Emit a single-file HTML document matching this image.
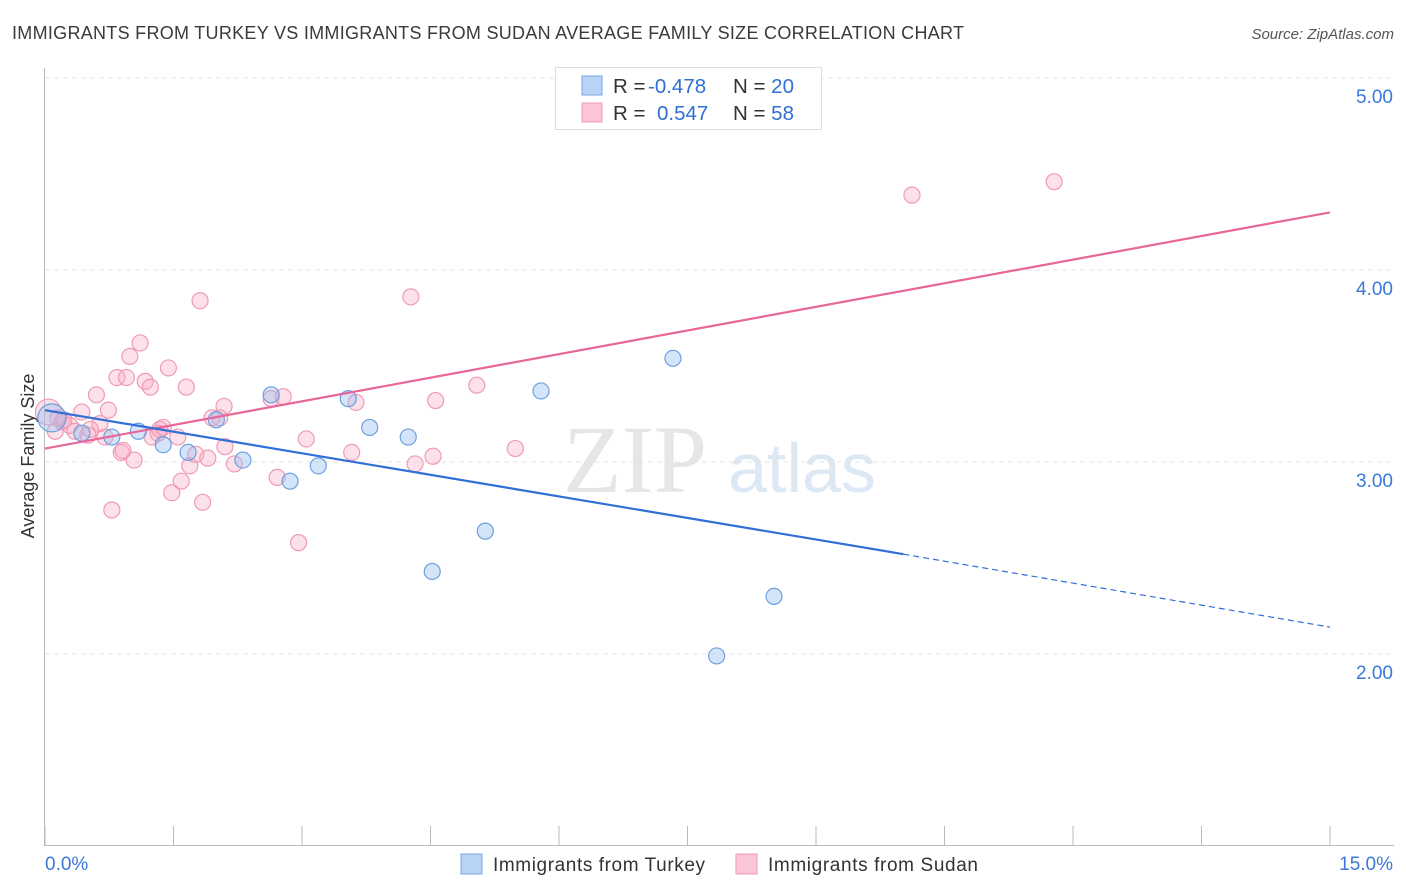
<!DOCTYPE html>
<html><head><meta charset="utf-8"><style>
body{margin:0;background:#fff;font-family:"Liberation Sans",sans-serif}
svg{display:block}
</style></head><body>
<svg id="c" width="1406" height="892">
<text x="12" y="39" font-size="18" fill="#3a3a3a" textLength="952">IMMIGRANTS FROM TURKEY VS IMMIGRANTS FROM SUDAN AVERAGE FAMILY SIZE CORRELATION CHART</text>
<text x="1394" y="39" font-size="15" fill="#555" font-style="italic" text-anchor="end">Source: ZipAtlas.com</text>
<text x="635" y="492" font-size="96" fill="#e6e6e6" font-family="Liberation Serif" text-anchor="middle">ZIP</text>
<text x="802" y="492" font-size="70" fill="#dde8f5" text-anchor="middle">atlas</text>
<text transform="translate(34,456) rotate(-90)" font-size="18" fill="#333" text-anchor="middle">Average Family Size</text>
<g id="grid"></g><g id="pts"></g><g id="trend"></g>
<g>
<rect x="555.5" y="67.5" width="266" height="62" fill="#fff" stroke="#ddd"/>
<rect x="582" y="76" width="20" height="19" fill="#b8d3f5" stroke="#7aa7e0"/>
<rect x="582" y="103" width="20" height="19" fill="#fac6d6" stroke="#f09ab5"/>
<text x="613" y="93" font-size="20.5" fill="#333">R = <tspan x="648" fill="#2f6fd6">-0.478</tspan><tspan x="733">N = </tspan><tspan fill="#2f6fd6">20</tspan></text>
<text x="613" y="120" font-size="20.5" fill="#333">R = <tspan x="657" fill="#2f6fd6">0.547</tspan><tspan x="733">N = </tspan><tspan fill="#2f6fd6">58</tspan></text>
</g>
<g>
<rect x="461" y="854" width="21" height="20" fill="#b8d3f5" stroke="#7aa7e0"/>
<text x="493" y="871" font-size="19" fill="#333" textLength="212">Immigrants from Turkey</text>
<rect x="736" y="854" width="21" height="20" fill="#fac6d6" stroke="#f09ab5"/>
<text x="768" y="871" font-size="19" fill="#333" textLength="210">Immigrants from Sudan</text>
</g>
</svg>
<script>
const yTicks=[2,3,4,5];
const yTickLabels=["2.00","3.00","4.00","5.00"];
const xTickLabels=["0.0%","15.0%"];
const turkeyX=[0.08,0.43,0.78,1.09,1.38,1.67,2.00,2.31,2.64,2.86,3.19,3.54,3.79,4.24,4.52,5.14,5.79,7.33,7.84,8.51];
const turkeyY=[3.23,3.15,3.13,3.16,3.09,3.05,3.22,3.01,3.35,2.90,2.98,3.33,3.18,3.13,2.43,2.64,3.37,3.54,1.99,2.30];
const sudanX=[0.04,0.12,0.20,0.29,0.35,0.43,0.50,0.60,0.64,0.74,0.78,0.84,0.89,0.95,0.99,1.04,1.11,1.17,1.23,1.25,1.32,1.38,1.44,1.48,1.55,1.59,1.65,1.69,1.76,1.81,1.84,1.90,1.95,2.04,2.09,2.10,2.21,2.64,2.71,2.78,2.96,3.05,3.58,3.63,4.27,4.32,4.53,4.56,5.04,5.49,10.12,11.78,0.22,0.53,1.34,0.70,0.15,0.91];
const sudanY=[3.26,3.16,3.21,3.19,3.16,3.26,3.14,3.35,3.20,3.27,2.75,3.44,3.05,3.44,3.55,3.01,3.62,3.42,3.39,3.13,3.15,3.18,3.49,2.84,3.13,2.90,3.39,2.98,3.04,3.84,2.79,3.02,3.23,3.23,3.29,3.08,2.99,3.33,2.92,3.34,2.58,3.12,3.05,3.31,3.86,2.99,3.03,3.32,3.40,3.07,4.39,4.46,3.22,3.17,3.17,3.13,3.23,3.06];
const turkeyTrend=[3.27,2.52,2.14];
const turkeyTrendX=[0,10.02,15];
const sudanTrend=[3.07,4.30];
const X=v=>45+v/15*1285, Y=v=>462-(v-3)*192;
const NS="http://www.w3.org/2000/svg";
function mk(t,a,p){const e=document.createElementNS(NS,t);for(const k in a)e.setAttribute(k,a[k]);p.appendChild(e);return e;}
const g=document.getElementById('grid');
yTicks.forEach((v,i)=>{
 const l=mk('line',{x1:45,x2:1394,y1:Y(v),y2:Y(v),stroke:'#e4e4e4','stroke-dasharray':'5,4'},g);
 
 
 const t=mk('text',{x:1393,y:Y(v)+25,'font-size':19,fill:'#3b78d8','text-anchor':'end'},g);t.textContent=yTickLabels[i];
 
 
});
let a=mk('line',{x1:44.5,x2:44.5,y1:68,y2:845,stroke:'#bbb'},g);


a=mk('line',{x1:44,x2:1394,y1:845.5,y2:845.5,stroke:'#bbb'},g);


for(let i=0;i<=10;i++){const t=mk('line',{x1:X(i*1.5),x2:X(i*1.5),y1:826,y2:845,stroke:'#bbb'},g);
 
 }
[[0,'start',45],[1,'end',1393]].forEach(([i,an,x])=>{const t=mk('text',{x:x,y:870,'font-size':19,fill:'#3b78d8','text-anchor':an},g);t.textContent=xTickLabels[i];
 
 });
const p=document.getElementById('pts');
sudanX.forEach((x,i)=>{const c=mk('circle',{cx:X(x),cy:Y(sudanY[i]),r:i==0?13:8,fill:'rgba(248,170,195,0.35)',stroke:'#ef9ab6','stroke-width':1.2},p);
 
 });
turkeyX.forEach((x,i)=>{const c=mk('circle',{cx:X(x),cy:Y(turkeyY[i]),r:i==0?14:8,fill:'rgba(150,190,240,0.4)',stroke:'#6d9fe0','stroke-width':1.2},p);
 
 });
const tr=document.getElementById('trend');
let l=mk('line',{x1:X(0),y1:Y(sudanTrend[0]),x2:X(15),y2:Y(sudanTrend[1]),stroke:'#e8679a','stroke-width':2.2},tr);


l=mk('line',{x1:X(turkeyTrendX[0]),y1:Y(turkeyTrend[0]),x2:X(turkeyTrendX[1]),y2:Y(turkeyTrend[1]),stroke:'#2f6fd6','stroke-width':2.2},tr);


l=mk('line',{x1:X(turkeyTrendX[1]),y1:Y(turkeyTrend[1]),x2:X(turkeyTrendX[2]),y2:Y(turkeyTrend[2]),stroke:'#2f6fd6','stroke-width':1.2,'stroke-dasharray':'6,4'},tr);


</script>
</body></html>
